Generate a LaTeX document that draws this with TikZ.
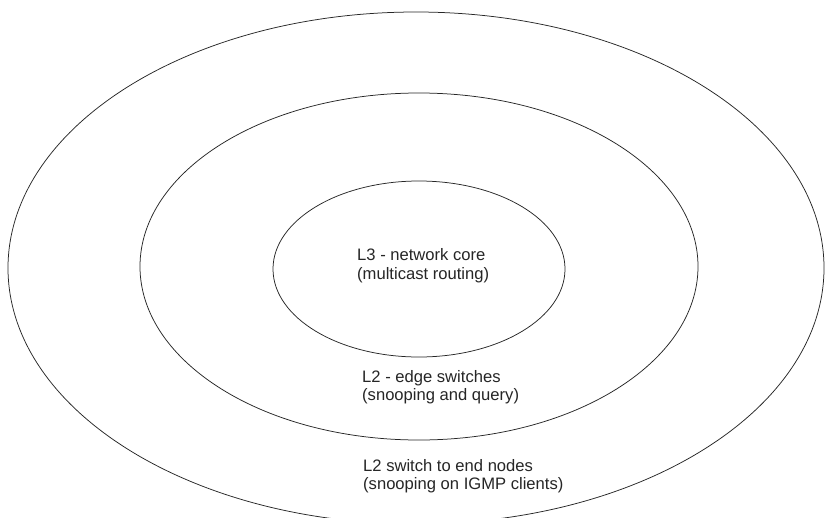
\documentclass[tikz,border=0pt]{standalone}
\usepackage{fontspec}
\setmainfont{Liberation Sans}
\begin{document}
\begin{tikzpicture}[x=1pt,y=-1pt,
  ring/.style={draw=black!85,line width=0.75pt},
  label/.style={anchor=base west,inner sep=0pt,text=black!85,font=\fontsize{16.6}{19}\selectfont}]
\useasboundingbox (0,0) rectangle (825,517);
\clip (0,0) rectangle (825,517);
\fill[white] (0,0) rectangle (825,517);
\draw[ring] (416,268) ellipse [x radius=408pt, y radius=256pt];
\draw[ring] (419,266.5) ellipse [x radius=279pt, y radius=173.5pt];
\draw[ring] (419,269) ellipse [x radius=146pt, y radius=88pt];
\node[label] (l3a) at (357,260.7) {L3 - network core};
\node[label] (l3b) at (357,279.4) {(multicast routing)};
\node[label] (l2a) at (362,382) {L2 - edge switches};
\node[label] (l2b) at (362,400.7) {(snooping and query)};
\node[label] (l1a) at (363,471) {L2 switch to end nodes};
\node[label] (l1b) at (363,489.7) {(snooping on IGMP clients)};
\end{tikzpicture}
\end{document}
